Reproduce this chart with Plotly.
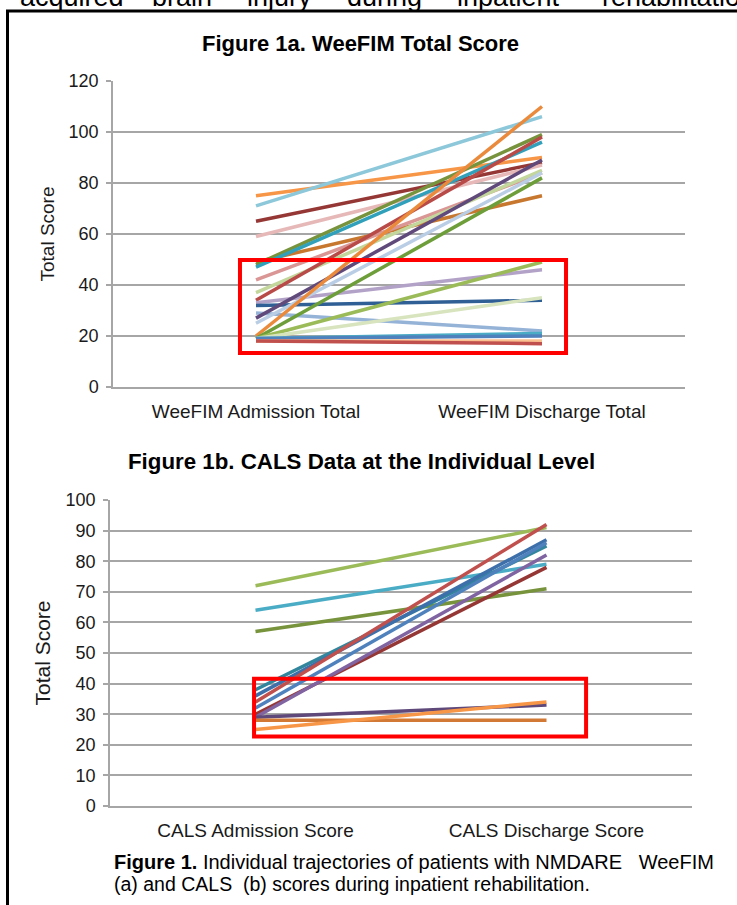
import plotly.graph_objects as go

W, H = 737, 905

# ---------------- Figure 1a data (WeeFIM) ----------------
wee_categories = ["WeeFIM Admission Total", "WeeFIM Discharge Total"]
wee_admission = [75, 71, 65, 59, 49, 48, 47, 42, 37, 34, 33, 32, 29, 27, 25, 20, 19, 19, 19, 19, 19, 18, 18]
wee_discharge = [90, 106, 88, 87, 75, 99, 96, 84, 85, 98, 46, 34, 22, 89, 84, 110, 82, 49, 35, 21, 20, 18, 17]
wee_colors = ["#F79646", "#8CC8DA", "#953735", "#E6B9B8", "#C8772F", "#77933C", "#31A0BA",
              "#D99694", "#C3D69B", "#B84A47", "#B3A2C7", "#2F5F95", "#95B3D7", "#604A7B",
              "#B9CDE5", "#EA8A3C", "#6E9E3A", "#9BBB59", "#D7E4BD", "#4BACC6", "#4F81BD",
              "#FAC090", "#C0504D"]
wee_yticks = [0, 20, 40, 60, 80, 100, 120]

# ---------------- Figure 1b data (CALS) ----------------
cals_categories = ["CALS Admission Score", "CALS Discharge Score"]
cals_admission = [72, 64, 57, 38, 36, 34, 32, 30, 29, 29, 28, 25]
cals_discharge = [91, 79, 71, 85, 87, 92, 86, 78, 82, 33, 28, 34]
cals_colors = ["#9BBB59", "#4BACC6", "#77933C", "#31859C", "#3D6FAA", "#C0504D", "#4F81BD",
               "#953735", "#8064A2", "#5F497A", "#D27A35", "#F79646"]
cals_yticks = [0, 10, 20, 30, 40, 50, 60, 70, 80, 90, 100]

FONT = "Liberation Sans, Arial, sans-serif"
GRID = "#A6A6A6"
TXT = "#1a1a1a"

fig = go.Figure()

for a, d, c in zip(wee_admission, wee_discharge, wee_colors):
    fig.add_trace(go.Scatter(x=wee_categories, y=[a, d], mode="lines",
                             line=dict(color=c, width=3.5), xaxis="x", yaxis="y",
                             showlegend=False, hoverinfo="skip"))

for a, d, c in zip(cals_admission, cals_discharge, cals_colors):
    fig.add_trace(go.Scatter(x=cals_categories, y=[a, d], mode="lines",
                             line=dict(color=c, width=3.5), xaxis="x2", yaxis="y2",
                             showlegend=False, hoverinfo="skip"))


def px_x(p):
    return p / W


def px_y(p):
    return 1 - p / H


def yaxis_style():
    return dict(showgrid=True, gridcolor=GRID, gridwidth=1.5, showline=True,
                linecolor=GRID, linewidth=1.5, ticks="outside", ticklen=5,
                tickcolor=GRID, tickwidth=1.5, zeroline=False, automargin=False,
                tickfont=dict(family=FONT, size=18, color=TXT),
                ticklabelstandoff=4)


def xaxis_style(standoff):
    return dict(showgrid=False, showline=True, linecolor=GRID, linewidth=1.5,
                ticks="", zeroline=False, automargin=False,
                tickfont=dict(family=FONT, size=19, color=TXT),
                ticklabelstandoff=standoff)


fig.update_layout(
    width=W, height=H, margin=dict(l=0, r=0, t=0, b=0, pad=0, autoexpand=False),
    paper_bgcolor="white", plot_bgcolor="white",
    xaxis=dict(domain=[px_x(113), px_x(685)], range=[-0.5, 1.5], anchor="y",
               categoryorder="array", categoryarray=wee_categories, **xaxis_style(6)),
    yaxis=dict(domain=[px_y(387), px_y(81)], range=[0, 120], tickvals=wee_yticks,
               anchor="x",
               title=dict(text="Total Score", font=dict(family=FONT, size=19, color=TXT),
                          standoff=9),
               **yaxis_style()),
    xaxis2=dict(domain=[px_x(110), px_x(692)], range=[-0.5, 1.5], anchor="y2",
                categoryorder="array", categoryarray=cals_categories, **xaxis_style(6)),
    yaxis2=dict(domain=[px_y(806), px_y(500)], range=[0, 100], tickvals=cals_yticks,
                anchor="x2",
                title=dict(text="Total Score", font=dict(family=FONT, size=21, color=TXT),
                           standoff=9),
                **yaxis_style()),
)

shapes = [
    # red highlight boxes
    dict(type="rect", xref="x", yref="y", x0=-0.056, x1=1.084, y0=13.3, y1=49.8,
         line=dict(color="#FF0000", width=4)),
    dict(type="rect", xref="x2", yref="y2", x0=-0.005, x1=1.136, y0=22.7, y1=41.6,
         line=dict(color="#FF0000", width=4)),
    # black frame (left and top)
    dict(type="line", xref="paper", yref="paper", x0=px_x(7.5), x1=px_x(7.5),
         y0=px_y(10), y1=0, line=dict(color="black", width=3)),
    dict(type="line", xref="paper", yref="paper", x0=px_x(6), x1=1,
         y0=px_y(11), y1=px_y(11), line=dict(color="black", width=3)),
]
fig.update_layout(shapes=shapes)

annotations = [
    dict(text="<b>Figure 1a. WeeFIM Total Score</b>", x=px_x(360), y=px_y(44),
         xref="paper", yref="paper", xanchor="center", yanchor="middle", showarrow=False,
         font=dict(family=FONT, size=22, color="black")),
    dict(text="<b>Figure 1b. CALS Data at the Individual Level</b>", x=px_x(361), y=px_y(462),
         xref="paper", yref="paper", xanchor="center", yanchor="middle", showarrow=False,
         font=dict(family=FONT, size=22.3, color="black")),
    dict(text="<b>Figure 1.</b> Individual trajectories of patients with NMDARE   WeeFIM",
         x=px_x(112), y=px_y(862), xref="paper", yref="paper", xanchor="left",
         yanchor="middle", showarrow=False, font=dict(family=FONT, size=20, color="black")),
    dict(text="(a) and CALS  (b) scores during inpatient rehabilitation.",
         x=px_x(112), y=px_y(884), xref="paper", yref="paper", xanchor="left",
         yanchor="middle", showarrow=False, font=dict(family=FONT, size=19.5, color="black")),
]

top_words = ["acquired", "brain", "injury", "during", "inpatient", "rehabilitation"]
top_word_x = [18, 150, 245, 345, 455, 600]
for wd, wx in zip(top_words, top_word_x):
    annotations.append(dict(text=wd, x=px_x(wx), y=px_y(14), xref="paper", yref="paper",
                            xanchor="left", yanchor="bottom", showarrow=False,
                            font=dict(family=FONT, size=27, color="black")))

fig.update_layout(annotations=annotations)

fig.write_html("out.html", config={"displayModeBar": False},
               post_script="document.body.style.margin='0';")
